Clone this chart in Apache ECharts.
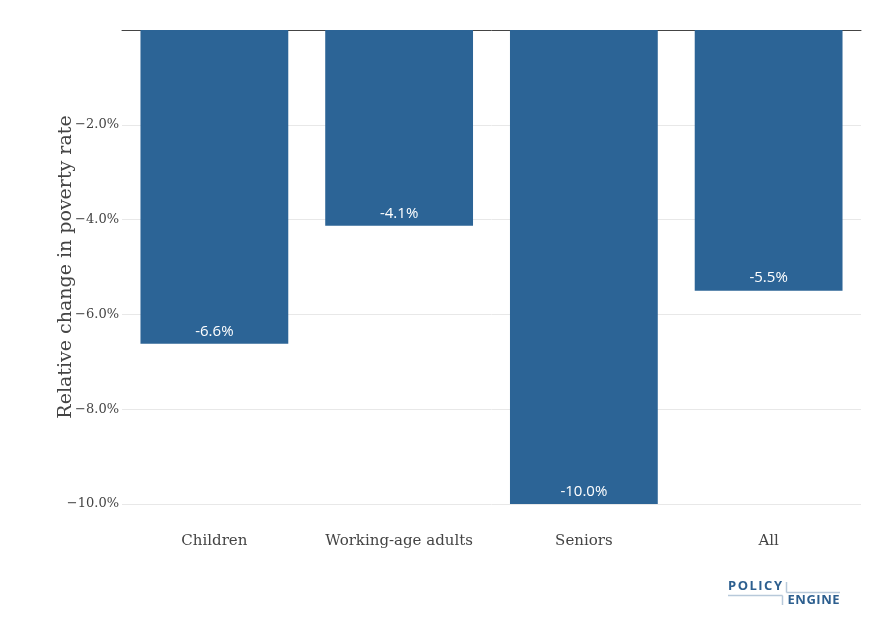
<!DOCTYPE html>
<html><head><meta charset="utf-8">
<script src="https://cdn.jsdelivr.net/npm/echarts@6/dist/echarts.min.js"></script>
<style>html,body{margin:0;padding:0;background:#fff}#c{width:893px;height:632px}</style>
</head><body><div id="c"></div>
<script>
const categories = ["Children", "Working-age adults", "Seniors", "All"];
const values = [-6.62, -4.13, -10.0, -5.5];
const yTicks = [-10, -8, -6, -4, -2, 0];

const chart = echarts.init(document.getElementById('c'));
const serif = '"DejaVu Serif", serif';
const sans = '"Open Sans", sans-serif';

// spaced logo letters
const ctx = document.createElement('canvas').getContext('2d');
function spaced(word, x0, y, totalWidth, font) {
  ctx.font = font;
  const ws = word.split('').map(ch => ctx.measureText(ch).width);
  const sum = ws.reduce((a, b) => a + b, 0);
  const gap = (totalWidth - sum) / (word.length - 1);
  let x = x0; const out = [];
  word.split('').forEach((ch, i) => {
    out.push({ type: 'text', x: x, y: y, style: { text: ch, font: font, fill: '#2D5F8F' } });
    x += ws[i] + gap;
  });
  return out;
}
const logoFont = 'bold 13px "Open Sans", sans-serif';

chart.setOption({
  animation: false,
  grid: { left: 122, right: 32, top: 30, bottom: 128, containLabel: false },
  xAxis: [{
    type: 'category', data: categories, position: 'top',
    axisLine: { show: true, lineStyle: { color: '#444', width: 1 } },
    axisTick: { show: false },
    axisLabel: { show: false }
  }, {
    type: 'category', data: categories, position: 'bottom',
    axisLine: { show: false }, axisTick: { show: false },
    axisLabel: { fontFamily: serif, fontSize: 15, color: '#444', margin: 30, interval: 0 }
  }],
  yAxis: {
    type: 'value', min: -10, max: 0, interval: 2,
    name: 'Relative change in poverty rate', nameLocation: 'middle', nameGap: 46,
    nameMoveOverlap: false,
    nameTextStyle: { fontFamily: serif, fontSize: 19, color: '#444' },
    axisLine: { show: false }, axisTick: { show: false },
    splitLine: { lineStyle: { color: '#e8e8e8', width: 1 } },
    axisLabel: {
      fontFamily: serif, fontSize: 13, color: '#444', margin: 3,
      formatter: v => v === 0 ? '' : (v < 0 ? '\u2212' : '') + Math.abs(v).toFixed(1) + '%'
    }
  },
  series: [{
    type: 'bar', data: values, barCategoryGap: '20%', xAxisIndex: 0,
    itemStyle: { color: '#2C6496' },
    label: {
      show: true, position: 'insideBottom', distance: 5,
      color: '#fff', fontFamily: sans, fontSize: 15,
      formatter: p => p.value.toFixed(1) + '%'
    }
  }],
  graphic: [
    ...spaced('POLICY', 728, 580, 54, logoFont),
    ...spaced('ENGINE', 787.5, 594, 52, logoFont),
    { type: 'line', shape: { x1: 786.5, y1: 582, x2: 786.5, y2: 592.5 }, style: { stroke: '#b8c9da', lineWidth: 1.5 } },
    { type: 'line', shape: { x1: 786.5, y1: 592.5, x2: 840, y2: 592.5 }, style: { stroke: '#b8c9da', lineWidth: 1.5 } },
    { type: 'line', shape: { x1: 728, y1: 595.5, x2: 782.5, y2: 595.5 }, style: { stroke: '#b8c9da', lineWidth: 1.5 } },
    { type: 'line', shape: { x1: 782.5, y1: 595.5, x2: 782.5, y2: 605 }, style: { stroke: '#b8c9da', lineWidth: 1.5 } }
  ]
});
</script></body></html>
